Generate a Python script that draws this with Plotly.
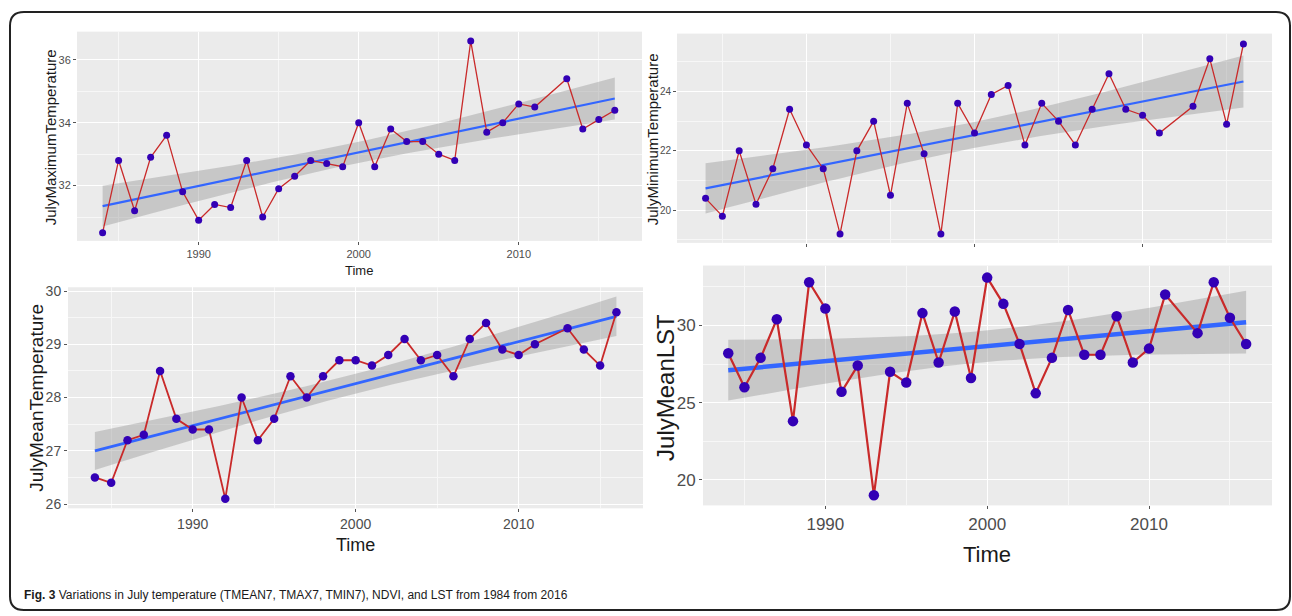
import numpy as np
import plotly.graph_objects as go

# ---------------- data ----------------
years = [1984, 1985, 1986, 1987, 1988, 1989, 1990, 1991, 1992, 1993, 1994,
         1995, 1996, 1997, 1998, 1999, 2000, 2001, 2002, 2003, 2004, 2005,
         2006, 2007, 2008, 2009, 2010, 2011, 2013, 2014, 2015, 2016]

july_max_temp = [30.5, 32.8, 31.2, 32.9, 33.6, 31.8, 30.9, 31.4, 31.3, 32.8, 31.0,
                 31.9, 32.3, 32.8, 32.7, 32.6, 34.0, 32.6, 33.8, 33.4, 33.4, 33.0,
                 32.8, 36.6, 33.7, 34.0, 34.6, 34.5, 35.4, 33.8, 34.1, 34.4]

july_min_temp = [20.4, 19.8, 22.0, 20.2, 21.4, 23.4, 22.2, 21.4, 19.2, 22.0, 23.0,
                 20.5, 23.6, 21.9, 19.2, 23.6, 22.6, 23.9, 24.2, 22.2, 23.6, 23.0,
                 22.2, 23.4, 24.6, 23.4, 23.2, 22.6, 23.5, 25.1, 22.9, 25.6]

july_mean_temp = [26.5, 26.4, 27.2, 27.3, 28.5, 27.6, 27.4, 27.4, 26.1, 28.0, 27.2,
                  27.6, 28.4, 28.0, 28.4, 28.7, 28.7, 28.6, 28.8, 29.1, 28.7, 28.8,
                  28.4, 29.1, 29.4, 28.9, 28.8, 29.0, 29.3, 28.9, 28.6, 29.6]

july_mean_lst = [28.2, 26.0, 27.9, 30.4, 23.8, 32.8, 31.1, 25.7, 27.4, 19.0, 27.0,
                 26.3, 30.8, 27.6, 30.9, 26.6, 33.1, 31.4, 28.8, 25.6, 27.9, 31.0,
                 28.1, 28.1, 30.6, 27.6, 28.5, 32.0, 29.5, 32.8, 30.5, 28.8]

x_tick_vals = [1990, 2000, 2010]
x_tick_text = ["1990", "2000", "2010"]
x_minor_vals = [1985, 1995, 2005, 2015]

y_titles = ["JulyMaximumTemperature", "JulyMinimumTemperature",
            "JulyMeanTemperature", "JulyMeanLST"]
x_title = "Time"
caption = ("<b>Fig. 3</b> Variations in July temperature (TMEAN7, TMAX7, TMIN7), "
           "NDVI, and LST from 1984 from 2016")

# ---------------- layout helpers ----------------
W, H = 1292, 616
T975 = 2.04  # t quantile for 95% band (df = 30)


def px(x):
    return x / W


def py(y):
    return 1 - y / H


def lm_band(xs, ys):
    xs = np.asarray(xs, float)
    ys = np.asarray(ys, float)
    n = len(xs)
    b, a = np.polyfit(xs, ys, 1)
    resid = ys - (a + b * xs)
    s = np.sqrt(np.sum(resid ** 2) / (n - 2))
    xbar = xs.mean()
    sxx = np.sum((xs - xbar) ** 2)
    grid = np.linspace(xs.min(), xs.max(), 80)
    fit = a + b * grid
    se = s * np.sqrt(1.0 / n + (grid - xbar) ** 2 / sxx)
    return grid, fit, fit - T975 * se, fit + T975 * se


RED = "#C92A2A"
PT = "#3300B5"
BLUE = "#3366FF"
NARROW = "Liberation Sans Narrow, Liberation Sans, Arial"

panels = [
    dict(y=july_max_temp, xd=(77, 642), yd=(28, 240), xr=(1982.4, 2017.7), yr=(30.24, 36.9),
         yt=[32, 34, 36], ym=[31, 33, 35], lw=1.3, ms=7, tw=2.2, tf=11, showx=True),
    dict(y=july_min_temp, xd=(677, 1272), yd=(30, 242), xr=(1982.3, 2017.7), yr=(18.9, 25.95),
         yt=[20, 22, 24], ym=[19, 21, 23, 25], lw=1.3, ms=7, tw=2.2, tf=10, showx=False),
    dict(y=july_mean_temp, xd=(68, 643), yd=(287, 511), xr=(1982.35, 2017.63), yr=(25.92, 30.07),
         yt=[26, 27, 28, 29, 30], ym=[26.5, 27.5, 28.5, 29.5], lw=1.8, ms=8.5, tw=2.8, tf=14, showx=True),
    dict(y=july_mean_lst, xd=(703, 1272), yd=(265, 508), xr=(1982.44, 2017.6), yr=(18.34, 33.88),
         yt=[20, 25, 30], ym=[22.5, 27.5, 32.5], lw=2.2, ms=10.5, tw=4.5, tf=17, showx=True),
]

fig = go.Figure()
layout = dict(width=W, height=H, margin=dict(l=0, r=0, t=0, b=0),
              paper_bgcolor="white", plot_bgcolor="#EBEBEB", showlegend=False)

for i, p in enumerate(panels, start=1):
    xa = "x" if i == 1 else f"x{i}"
    ya = "y" if i == 1 else f"y{i}"
    g, fit, lo, hi = lm_band(years, p["y"])
    fig.add_trace(go.Scatter(x=np.concatenate([g, g[::-1]]), y=np.concatenate([hi, lo[::-1]]),
                             fill="toself", fillcolor="rgba(150,150,150,0.42)",
                             line=dict(width=0), mode="lines", hoverinfo="skip",
                             xaxis=xa, yaxis=ya))
    fig.add_trace(go.Scatter(x=g, y=fit, mode="lines", line=dict(color=BLUE, width=p["tw"]),
                             xaxis=xa, yaxis=ya))
    fig.add_trace(go.Scatter(x=years, y=p["y"], mode="lines+markers",
                             line=dict(color=RED, width=p["lw"]),
                             marker=dict(color=PT, size=p["ms"]),
                             xaxis=xa, yaxis=ya))
    xkey = "xaxis" if i == 1 else f"xaxis{i}"
    ykey = "yaxis" if i == 1 else f"yaxis{i}"
    layout[xkey] = dict(domain=[px(p["xd"][0]), px(p["xd"][1])], range=list(p["xr"]),
                        anchor=ya, tickvals=x_tick_vals, ticktext=x_tick_text,
                        showticklabels=p["showx"], ticks="outside", ticklen=3,
                        tickcolor="#555", tickwidth=1,
                        tickfont=dict(family=NARROW, size=p["tf"], color="#4D4D4D"),
                        showgrid=True, gridcolor="white", gridwidth=1.2, zeroline=False,
                        showline=False,
                        minor=dict(tickvals=x_minor_vals, showgrid=True, gridcolor="#F7F7F7",
                                   gridwidth=0.6, ticks=""))
    layout[ykey] = dict(domain=[py(p["yd"][1]), py(p["yd"][0])], range=list(p["yr"]),
                        anchor=xa, tickvals=p["yt"], ticks="outside", ticklen=3,
                        tickcolor="#555", tickwidth=1,
                        tickfont=dict(family=NARROW, size=p["tf"], color="#4D4D4D"),
                        showgrid=True, gridcolor="white", gridwidth=1.2, zeroline=False,
                        showline=False,
                        minor=dict(tickvals=p["ym"], showgrid=True, gridcolor="#F7F7F7",
                                   gridwidth=0.6, ticks=""))

fig.update_layout(**layout)

ann = [
    dict(text=y_titles[0], x=px(50), y=py(135), textangle=-90, size=15),
    dict(text=y_titles[1], x=px(652), y=py(137), textangle=-90, size=15),
    dict(text=y_titles[2], x=px(37), y=py(399), textangle=-90, size=19),
    dict(text=y_titles[3], x=px(666), y=py(389), textangle=-90, size=24),
    dict(text=x_title, x=px(359), y=py(270), textangle=0, size=13),
    dict(text=x_title, x=px(355), y=py(548), textangle=0, size=18),
    dict(text=x_title, x=px(987), y=py(558), textangle=0, size=22),
]
for a in ann:
    fig.add_annotation(text=a["text"], x=a["x"], y=a["y"], xref="paper", yref="paper",
                       textangle=a["textangle"], showarrow=False,
                       xanchor="center", yanchor="middle",
                       font=dict(family=NARROW, size=a["size"], color="#1A1A1A"))

fig.add_annotation(text=caption, x=px(22), y=py(599), xref="paper", yref="paper",
                   showarrow=False, xanchor="left", yanchor="middle",
                   font=dict(family=NARROW, size=12, color="#1A1A1A"))

# rounded outer frame
L, T, R, B, r = 10, 8, 1290, 614, 14
path = (f"M {px(L)},{py(T + r)} Q {px(L)},{py(T)} {px(L + r)},{py(T)} "
        f"L {px(R - r)},{py(T)} Q {px(R)},{py(T)} {px(R)},{py(T + r)} "
        f"L {px(R)},{py(B - r)} Q {px(R)},{py(B)} {px(R - r)},{py(B)} "
        f"L {px(L + r)},{py(B)} Q {px(L)},{py(B)} {px(L)},{py(B - r)} Z")
fig.add_shape(type="path", path=path, xref="paper", yref="paper",
              line=dict(color="#222", width=2), fillcolor="rgba(0,0,0,0)", layer="above")

fig.write_html("out.html")
